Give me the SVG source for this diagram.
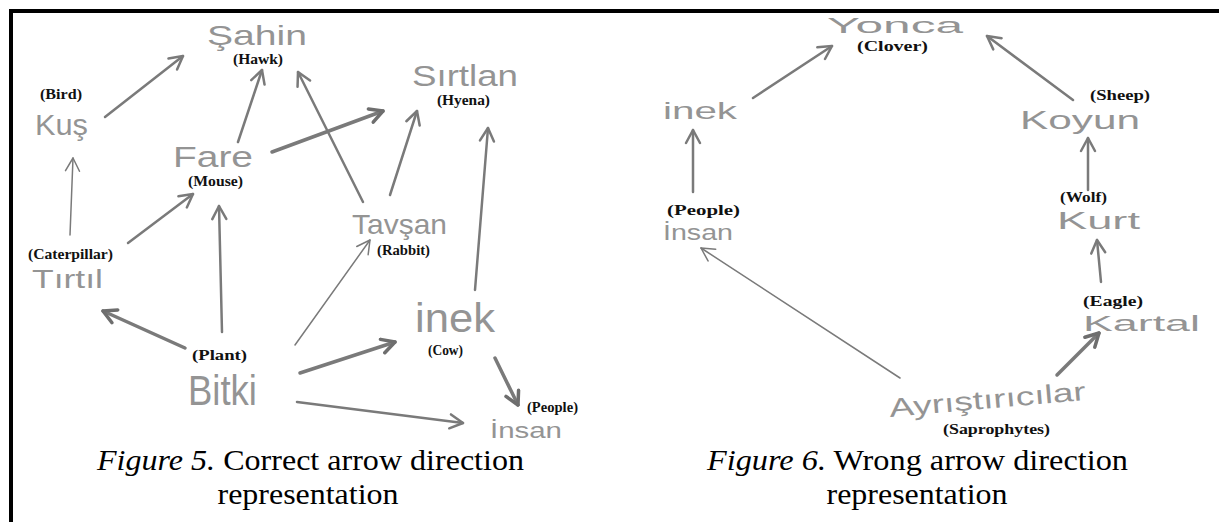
<svg xmlns="http://www.w3.org/2000/svg" width="1219" height="522" viewBox="0 0 1219 522">
<style>
.hw{font-family:"Liberation Sans","DejaVu Sans",sans-serif;fill:#949494}
.lb{font-family:"Liberation Serif","Times New Roman",serif;font-weight:bold;font-size:14px;fill:#111}
.cap{font-family:"Liberation Serif","Times New Roman",serif;font-size:30px;fill:#000}
.c{fill:none;stroke:#7a7a7a;stroke-linecap:round}
.t1{stroke-width:1.5;marker-end:url(#ah1)}
.t2{stroke-width:2.5;marker-end:url(#ah2)}
.t3{stroke-width:3.5;marker-end:url(#ah3)}
</style>
<defs>
<marker id="ah1" viewBox="-16 -9 18 18" markerWidth="18" markerHeight="18" refX="0" refY="0" orient="auto" markerUnits="userSpaceOnUse"><path d="M-13,-7 L0,0 L-13,7" fill="none" stroke="#7a7a7a" stroke-width="1.5" stroke-linecap="round" stroke-linejoin="round"/></marker>
<marker id="ah2" viewBox="-16 -9 18 18" markerWidth="18" markerHeight="18" refX="0" refY="0" orient="auto" markerUnits="userSpaceOnUse"><path d="M-13,-7 L0,0 L-13,7" fill="none" stroke="#7a7a7a" stroke-width="2.5" stroke-linecap="round" stroke-linejoin="round"/></marker>
<marker id="ah3" viewBox="-16 -9 18 18" markerWidth="18" markerHeight="18" refX="0" refY="0" orient="auto" markerUnits="userSpaceOnUse"><path d="M-13,-7 L0,0 L-13,7" fill="none" stroke="#6e6e6e" stroke-width="3.5" stroke-linecap="round" stroke-linejoin="round"/></marker>
</defs>
<rect x="0" y="0" width="1219" height="522" fill="#fff"/>
<rect x="9" y="9" width="1210" height="4" fill="#000"/>
<rect x="9" y="9" width="4" height="513" fill="#000"/>

<g id="connectors">
<path class="c t2" d="M105,117 L183,56"/>
<path class="c t2" d="M238,142 L262,70"/>
<path class="c t2" d="M363,202 L298,72"/>
<path class="c t3" d="M272,152 L383,111"/>
<path class="c t2" d="M390,195 L417,111"/>
<path class="c t2" d="M475,290 L488,128"/>
<path class="c t1" d="M70,235 L73,158"/>
<path class="c t2" d="M128,243 L193,194"/>
<path class="c t2" d="M222,332 L219,206"/>
<path class="c t3" d="M185,348 L103,311"/>
<path class="c t1" d="M295,345 L370,240"/>
<path class="c t3" d="M300,373 L395,342"/>
<path class="c t2" d="M297,402 L463,423"/>
<path class="c t3" d="M495,358 L518,405"/>
<path class="c t2" d="M753,98 L832,46"/>
<path class="c t2" d="M693,192 L693,130"/>
<path class="c t1" d="M900,378 L701,248"/>
<path class="c t2" d="M1073,100 L987,36"/>
<path class="c t2" d="M1088,190 L1088,138"/>
<path class="c t2" d="M1101,282 L1097,240"/>
<path class="c t3" d="M1057,375 L1099,333"/>
</g>

<g id="sahin"><text class="hw" x="207" y="45" font-size="28" textLength="100" lengthAdjust="spacingAndGlyphs">Şahin</text><text class="lb" x="233" y="64" textLength="50" lengthAdjust="spacingAndGlyphs">(Hawk)</text></g>
<g id="kus"><text class="lb" x="40" y="99" textLength="42" lengthAdjust="spacingAndGlyphs">(Bird)</text><text class="hw" x="35" y="135" font-size="30" textLength="53" lengthAdjust="spacingAndGlyphs">Kuş</text></g>
<g id="fare"><text class="hw" x="173" y="167" font-size="30" textLength="80" lengthAdjust="spacingAndGlyphs">Fare</text><text class="lb" x="188" y="186" textLength="55" lengthAdjust="spacingAndGlyphs">(Mouse)</text></g>
<g id="sirtlan"><text class="hw" x="412" y="86" font-size="30" textLength="106" lengthAdjust="spacingAndGlyphs">Sırtlan</text><text class="lb" x="437" y="105" textLength="53" lengthAdjust="spacingAndGlyphs">(Hyena)</text></g>
<g id="tavsan"><text class="hw" x="352" y="234" font-size="28" textLength="95" lengthAdjust="spacingAndGlyphs">Tavşan</text><text class="lb" x="377" y="255" textLength="53" lengthAdjust="spacingAndGlyphs">(Rabbit)</text></g>
<g id="tirtil"><text class="lb" x="28" y="259" textLength="85" lengthAdjust="spacingAndGlyphs">(Caterpillar)</text><text class="hw" x="32" y="288" font-size="26" textLength="71" lengthAdjust="spacingAndGlyphs">Tırtıl</text></g>
<g id="bitki"><text class="lb" x="192" y="360" textLength="55" lengthAdjust="spacingAndGlyphs">(Plant)</text><text class="hw" x="188" y="405" font-size="42" textLength="69" lengthAdjust="spacingAndGlyphs">Bitki</text></g>
<g id="inek1"><text class="hw" x="415" y="332" font-size="40" textLength="80" lengthAdjust="spacingAndGlyphs">inek</text><text class="lb" x="428" y="355" textLength="35" lengthAdjust="spacingAndGlyphs">(Cow)</text></g>
<g id="insan1"><text class="lb" x="527" y="412" textLength="51" lengthAdjust="spacingAndGlyphs">(People)</text><text class="hw" x="490" y="438" font-size="22" textLength="72" lengthAdjust="spacingAndGlyphs">İnsan</text></g>

<g id="yonca"><text class="hw" x="827" y="33" font-size="22" textLength="136" lengthAdjust="spacingAndGlyphs">Yonca</text><text class="lb" x="857" y="51" textLength="71" lengthAdjust="spacingAndGlyphs">(Clover)</text></g>
<g id="inek2"><text class="hw" x="663" y="119" font-size="24" textLength="74" lengthAdjust="spacingAndGlyphs">inek</text></g>
<g id="insan2"><text class="lb" x="667" y="215" textLength="73" lengthAdjust="spacingAndGlyphs">(People)</text><text class="hw" x="663" y="240" font-size="22" textLength="70" lengthAdjust="spacingAndGlyphs">İnsan</text></g>
<g id="koyun"><text class="lb" x="1090" y="100" textLength="60" lengthAdjust="spacingAndGlyphs">(Sheep)</text><text class="hw" x="1020" y="129" font-size="26" textLength="120" lengthAdjust="spacingAndGlyphs">Koyun</text></g>
<g id="kurt"><text class="lb" x="1060" y="202" textLength="47" lengthAdjust="spacingAndGlyphs">(Wolf)</text><text class="hw" x="1057" y="229" font-size="24" textLength="83" lengthAdjust="spacingAndGlyphs">Kurt</text></g>
<g id="kartal"><text class="lb" x="1083" y="306" textLength="60" lengthAdjust="spacingAndGlyphs">(Eagle)</text><text class="hw" x="1083" y="331" font-size="22" textLength="117" lengthAdjust="spacingAndGlyphs">Kartal</text></g>
<g id="ayristiricilar"><text class="hw" x="890" y="417" font-size="26" textLength="197" lengthAdjust="spacingAndGlyphs" transform="rotate(-5 890 417)">Ayrıştırıcılar</text><text class="lb" x="943" y="434" textLength="107" lengthAdjust="spacingAndGlyphs">(Saprophytes)</text></g>

<g id="caption5"><text class="cap" x="97" y="470" textLength="427" lengthAdjust="spacingAndGlyphs"><tspan font-style="italic">Figure 5.</tspan> Correct arrow direction</text><text class="cap" x="308" y="504" text-anchor="middle" textLength="181" lengthAdjust="spacingAndGlyphs">representation</text></g>
<g id="caption6"><text class="cap" x="707" y="470" textLength="421" lengthAdjust="spacingAndGlyphs"><tspan font-style="italic">Figure 6.</tspan> Wrong arrow direction</text><text class="cap" x="917" y="504" text-anchor="middle" textLength="181" lengthAdjust="spacingAndGlyphs">representation</text></g>
</svg>
